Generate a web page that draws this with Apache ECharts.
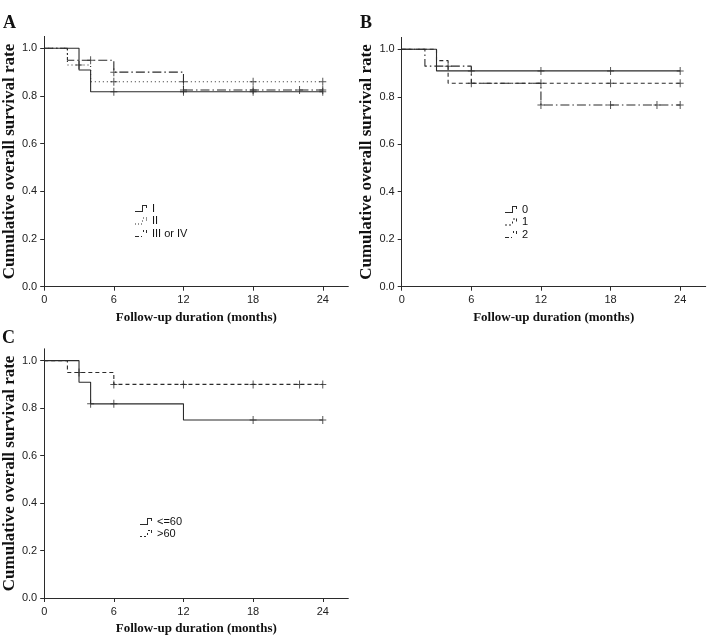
<!DOCTYPE html>
<html><head><meta charset="utf-8">
<script src="https://cdn.jsdelivr.net/npm/echarts@6.0.0/dist/echarts.min.js"></script>
<style>html,body{margin:0;padding:0;background:#fff}#c{width:709px;height:636px}</style>
</head><body><div id="c"></div>
<script>
// ---- tick labels ----
const xTicks = [0, 6, 12, 18, 24];
const yTicks = [0, 0.2, 0.4, 0.6, 0.8, 1.0];
const xName = 'Follow-up duration (months)';
const yName = 'Cumulative overall survival rate';
const panelLetters = ['A', 'B', 'C'];

// ---- Panel A : stage ----
const aNames = ['I', 'II', 'III or IV'];
const aI_t = [0, 3, 4, 24];            const aI_s = [1, 0.909, 0.818, 0.818];
const aI_ct = [6, 12, 18, 24];         const aI_cs = [0.818, 0.818, 0.818, 0.818];
const aII_t = [0, 2, 4, 24];           const aII_s = [1, 0.93, 0.86, 0.86];
const aII_ct = [3, 6, 12, 18, 24];     const aII_cs = [0.93, 0.86, 0.86, 0.86, 0.86];
const aIII_t = [0, 2, 6, 12, 24];      const aIII_s = [1, 0.95, 0.9, 0.825, 0.825];
const aIII_ct = [4, 6, 12, 18, 22, 24];const aIII_cs = [0.95, 0.9, 0.825, 0.825, 0.825, 0.825];

// ---- Panel B ----
const bNames = ['0', '1', '2'];
const b0_t = [0, 3, 24];               const b0_s = [1, 0.909, 0.909];
const b0_ct = [6, 12, 18, 24];         const b0_cs = [0.909, 0.909, 0.909, 0.909];
const b1_t = [0, 3, 4, 24];            const b1_s = [1, 0.952, 0.857, 0.857];
const b1_ct = [6, 12, 18, 24];         const b1_cs = [0.857, 0.857, 0.857, 0.857];
const b2_t = [0, 2, 6, 12, 24];        const b2_s = [1, 0.929, 0.857, 0.765, 0.765];
const b2_ct = [4, 12, 18, 22, 24];     const b2_cs = [0.929, 0.765, 0.765, 0.765, 0.765];

// ---- Panel C : age ----
const cNames = ['<=60', '>60'];
const c1_t = [0, 3, 4, 12, 24];        const c1_s = [1, 0.909, 0.818, 0.75, 0.75];
const c1_ct = [4, 6, 18, 24];          const c1_cs = [0.818, 0.818, 0.75, 0.75];
const c2_t = [0, 2, 6, 24];            const c2_s = [1, 0.95, 0.9, 0.9];
const c2_ct = [3, 6, 12, 18, 22, 24];  const c2_cs = [0.95, 0.9, 0.9, 0.9, 0.9, 0.9];

// ---- styles ----
const INK = '#2b2b2b';
const SERIF = '"Liberation Serif","Times New Roman",serif';
const SANS = '"Liberation Sans",Arial,sans-serif';
const PLUS = 'path://M3,0h1v8h-1Z M0,3.5h7v1h-7Z';
const IC_SOLID = 'path://M0,6H7V0H12V3H11V1H8V7H0Z';
const IC_DOT = 'path://M0,6h1v1h-1Z M3,6h1v1h-1Z M6,6h1v1h-1Z M7,3h1v1h-1Z M8,0h1v1h-1Z M11,0h1v1h-1Z M11,2h1v1h-1Z';
const IC_DASHDOT = 'path://M0,6h4v1h-4Z M6,6h1v1h-1Z M8,0h1v2h-1Z M11,0h1v3h-1Z';
const IC_DASH = 'path://M0,6h2v1h-2Z M4,6h2v1h-2Z M7,3h1v2h-1Z M8,0h2v1h-2Z M11,0h1v3h-1Z';
const DASH_SOLID = 'solid', DASH_DOT = [1, 3], DASH_DASHDOT = [9, 3, 1.5, 3], DASH_DASH = [4, 3];

const grids = [
  {left: 43.3, top: 36.4, width: 305, height: 250.3},
  {left: 401.7, top: 37.4, width: 304, height: 249.3},
  {left: 43.3, top: 348.8, width: 305, height: 249.5}
];

function zip(t, s) { return t.map((v, i) => [v, s[i]]); }

const xAxes = grids.map((g, i) => ({
  type: 'value', gridIndex: i, min: 0, max: 26.2,
  name: xName, nameLocation: 'middle', nameGap: 24,
  nameTextStyle: {fontFamily: SERIF, fontWeight: 'bold', fontSize: 13, color: '#111'},
  axisLine: {lineStyle: {color: INK, width: 1}},
  axisTick: {show: true, length: 4, lineStyle: {color: INK}, customValues: xTicks},
  axisLabel: {customValues: xTicks, margin: 8, fontFamily: SANS, fontSize: 11, color: '#222',
    formatter: v => String(v)},
  splitLine: {show: false}
}));
const yAxes = grids.map((g, i) => ({
  type: 'value', gridIndex: i, min: 0, max: 1.05,
  name: yName, nameLocation: 'middle', nameGap: 26,
  nameTextStyle: {fontFamily: SERIF, fontWeight: 'bold', fontSize: 17, color: '#111'},
  axisLine: {show: true, lineStyle: {color: INK, width: 1}},
  axisTick: {show: true, length: 4, lineStyle: {color: INK}, customValues: yTicks},
  axisLabel: {customValues: yTicks, margin: 7, fontFamily: SANS, fontSize: 11, color: '#222',
    formatter: v => Number(v).toFixed(1)},
  splitLine: {show: false}
}));

const series = [];
function curve(name, idx, t, s, dash, ct, cs) {
  series.push({
    name: name, type: 'line', step: 'end', xAxisIndex: idx, yAxisIndex: idx,
    showSymbol: false, symbol: 'none', silent: true,
    lineStyle: {color: INK, width: 1.1, type: dash},
    itemStyle: {color: INK},
    data: zip(t, s)
  });
  series.push({
    name: name + ' censored', type: 'scatter', xAxisIndex: idx, yAxisIndex: idx,
    symbol: PLUS, symbolSize: [7, 8], silent: true,
    itemStyle: {color: INK},
    data: zip(ct, cs)
  });
}
curve(aNames[0], 0, aI_t, aI_s, DASH_SOLID, aI_ct, aI_cs);
curve(aNames[1], 0, aII_t, aII_s, DASH_DOT, aII_ct, aII_cs);
curve(aNames[2], 0, aIII_t, aIII_s, DASH_DASHDOT, aIII_ct, aIII_cs);
curve(bNames[0], 1, b0_t, b0_s, DASH_SOLID, b0_ct, b0_cs);
curve(bNames[1], 1, b1_t, b1_s, DASH_DASH, b1_ct, b1_cs);
curve(bNames[2], 1, b2_t, b2_s, DASH_DASHDOT, b2_ct, b2_cs);
curve(cNames[0], 2, c1_t, c1_s, DASH_SOLID, c1_ct, c1_cs);
curve(cNames[1], 2, c2_t, c2_s, DASH_DASH, c2_ct, c2_cs);

function legend(names, icons, left, top, gap) {
  return {
    orient: 'vertical', left: left, top: top, padding: 0, itemGap: gap,
    itemWidth: 12, itemHeight: 7, selectedMode: false,
    itemStyle: {color: INK, borderWidth: 0},
    textStyle: {fontFamily: SANS, fontSize: 11, color: '#111', lineHeight: 10},
    data: names.map((n, i) => ({name: n, icon: icons[i]}))
  };
}

const option = {
  animation: false,
  backgroundColor: '#fff',
  title: [
    {text: panelLetters[0], left: 3, top: 14},
    {text: panelLetters[1], left: 360, top: 14},
    {text: panelLetters[2], left: 2, top: 329}
  ].map(t => Object.assign(t, {padding: 0,
    textStyle: {fontFamily: SERIF, fontWeight: 'bold', fontSize: 18, color: '#111'}})),
  grid: grids,
  xAxis: xAxes,
  yAxis: yAxes,
  legend: [
    legend(aNames, [IC_SOLID, IC_DOT, IC_DASHDOT], 135, 203, 1.5),
    legend(bNames, [IC_SOLID, IC_DASH, IC_DASHDOT], 505, 204, 1.5),
    legend(cNames, [IC_SOLID, IC_DASH], 140, 516, 1)
  ],
  series: series
};
const chart = echarts.init(document.getElementById('c'), null, {renderer: 'canvas'});
chart.setOption(option);
</script>
</body></html>
